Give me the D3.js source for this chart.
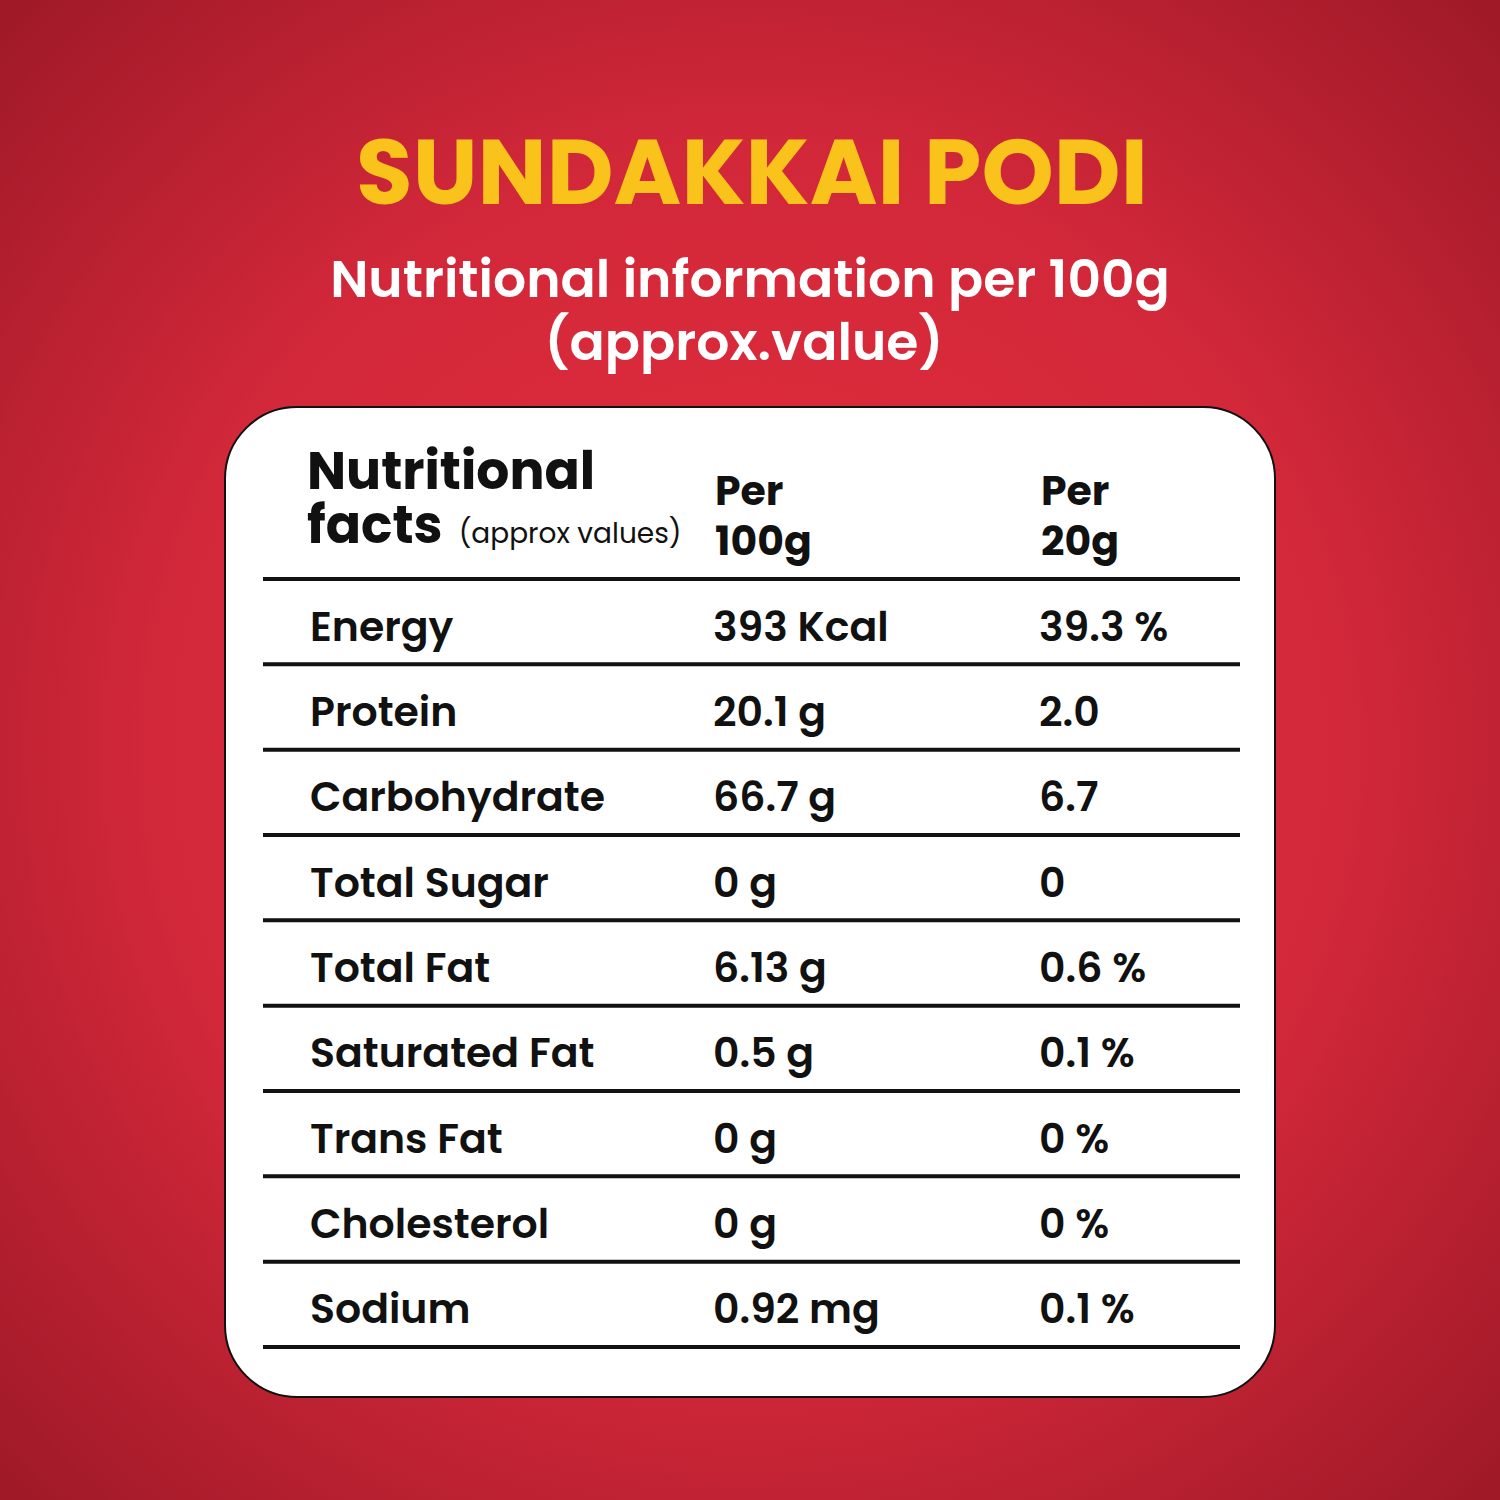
<!DOCTYPE html>
<html><head><meta charset="utf-8">
<script src="https://cdn.jsdelivr.net/npm/d3@7"></script>
<style>body{margin:0}svg{display:block}</style>
</head><body>
<svg id="chart" width="1500" height="1500"></svg>
<script>
const nutrients = ["Energy", "Protein", "Carbohydrate", "Total Sugar", "Total Fat", "Saturated Fat", "Trans Fat", "Cholesterol", "Sodium"];
const per100g = ["393 Kcal", "20.1 g", "66.7 g", "0 g", "6.13 g", "0.5 g", "0 g", "0 g", "0.92 mg"];
const per20g = ["39.3 %", "2.0", "6.7", "0", "0.6 %", "0.1 %", "0 %", "0 %", "0.1 %"];
const columnHeads = [["Per", "100g"], ["Per", "20g"]];

const font = "Poppins, 'Open Sans', Lato, sans-serif";
const svg = d3.select("#chart");

const defs = svg.append("defs");
const grad = defs.append("radialGradient").attr("id", "bg")
    .attr("cx", "50%").attr("cy", "50%").attr("r", "72%");
grad.append("stop").attr("offset", "0%").attr("stop-color", "#e52d3b");
grad.append("stop").attr("offset", "55%").attr("stop-color", "#d2283a");
grad.append("stop").attr("offset", "100%").attr("stop-color", "#9c1826");
svg.append("rect").attr("width", 1500).attr("height", 1500).attr("fill", "url(#bg)");

svg.append("text").attr("x", 752).attr("y", 204).attr("text-anchor", "middle")
    .attr("font-family", font).attr("font-weight", 700).attr("font-size", 92)
    .attr("fill", "#f9c31b").text("SUNDAKKAI PODI");
svg.append("text").attr("x", 750).attr("y", 297).attr("text-anchor", "middle")
    .attr("font-family", font).attr("font-weight", 600).attr("font-size", 52)
    .attr("fill", "#fff").text("Nutritional information per 100g");
svg.append("text").attr("x", 744).attr("y", 360).attr("text-anchor", "middle")
    .attr("font-family", font).attr("font-weight", 600).attr("font-size", 52)
    .attr("fill", "#fff").text("(approx.value)");

svg.append("rect").attr("x", 225).attr("y", 407).attr("width", 1050).attr("height", 990)
    .attr("rx", 72).attr("fill", "#fff").attr("stroke", "#111").attr("stroke-width", 2);

// header
const head = svg.append("g").attr("font-family", font).attr("font-weight", 700).attr("fill", "#111");
head.append("text").attr("x", 307).attr("y", 489).attr("font-size", 52).text("Nutritional");
const f = head.append("text").attr("x", 307).attr("y", 543).attr("font-size", 52);
f.append("tspan").text("facts");
f.append("tspan").attr("dx", 16).attr("font-size", 28).attr("font-weight", 400).text("(approx values)");

const colX = d3.scaleOrdinal().domain([0, 1, 2]).range([310, 713, 1039]);
columnHeads.forEach((lines, i) => {
    lines.forEach((t, j) => {
        head.append("text").attr("x", colX(i + 1) + 2).attr("y", 505 + j * 50)
            .attr("font-size", 41).text(t);
    });
});

// rows
const y = d3.scaleLinear().domain([0, nutrients.length]).range([579, 1347]);
svg.append("g").selectAll("line").data(d3.range(nutrients.length + 1)).join("line")
    .attr("x1", 263).attr("x2", 1240)
    .attr("y1", d => y(d)).attr("y2", d => y(d))
    .attr("stroke", "#111").attr("stroke-width", 4);

const rows = svg.append("g").attr("font-family", font).attr("font-weight", 600)
    .attr("font-size", 41).attr("fill", "#111");
nutrients.forEach((n, i) => {
    const by = (y(i) + y(i + 1)) / 2 + 19;
    [n, per100g[i], per20g[i]].forEach((t, c) => {
        rows.append("text").attr("x", colX(c)).attr("y", by).text(t);
    });
});
</script>
</body></html>
